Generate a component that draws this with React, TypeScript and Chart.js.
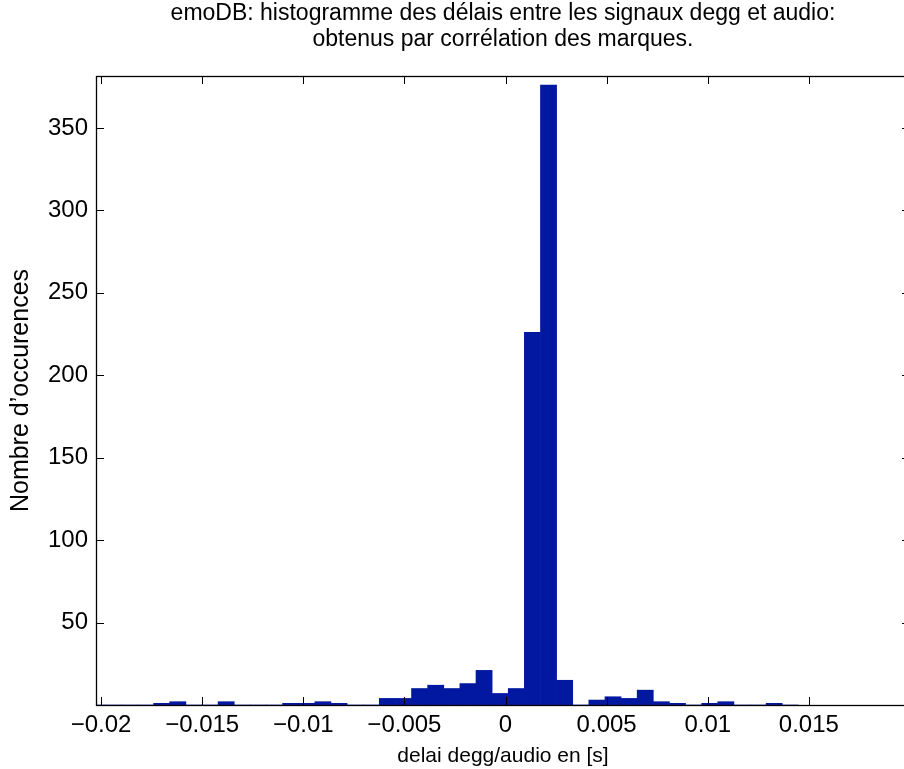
import React, { useEffect, useRef } from "react";
import { Chart, registerables } from "chart.js";

Chart.register(...registerables);

// Histogram bins (centres in seconds) and counts
const binCenters = [
  -0.0201895, -0.0193925, -0.0185955, -0.0177985, -0.0170015, -0.0162045,
  -0.0154075, -0.0146105, -0.0138135, -0.0130165, -0.0122195, -0.0114225,
  -0.0106255, -0.0098285, -0.0090315, -0.0082345, -0.0074375, -0.0066405,
  -0.0058435, -0.0050465, -0.0042495, -0.0034525, -0.0026555, -0.0018585,
  -0.0010615, -0.0002645, 0.0005325, 0.0013295, 0.0021265, 0.0029235,
  0.0037205, 0.0045175, 0.0053145, 0.0061115, 0.0069085, 0.0077055,
  0.0085025, 0.0092995, 0.0100965, 0.0108935, 0.0116905, 0.0124875,
  0.0132845, 0.0140815,
];
const counts = [
  0, 0, 0, 0, 1, 2,
  0, 0, 2, 0, 0, 0,
  1, 1, 2, 1, 0, 0,
  4, 4, 10, 12, 10, 13,
  21, 7, 10, 226, 376, 15,
  0, 3, 5, 4, 9, 2,
  1, 0, 1, 2, 0, 0,
  1, 0,
];

const xTickValues = [-0.02, -0.015, -0.01, -0.005, 0, 0.005, 0.01, 0.015];
const xTickLabels = ["\u22120.02", "\u22120.015", "\u22120.01", "\u22120.005", "0", "0.005", "0.01", "0.015"];
const yTickValues = [50, 100, 150, 200, 250, 300, 350];
const yTickLabels = ["50", "100", "150", "200", "250", "300", "350"];

const titleLines = [
  "emoDB: histogramme des délais entre les signaux degg et audio:",
  "obtenus par corrélation des marques.",
];
const xAxisTitle = "delai degg/audio en [s]";
const yAxisTitle = "Nombre d\u2019occurences";

const X_MIN = -0.02025;
const X_MAX = 0.02;
const Y_MIN = 0;
const Y_MAX = 381.5;

const FONT = "'Liberation Sans', Arial, Helvetica, sans-serif";
const BAR_COLOR = "rgb(3, 24, 160)";

const boxTicksPlugin = {
  id: "boxTicks",
  afterDatasetsDraw(chart: any) {
    const { ctx, chartArea } = chart;
    const { left, right, top, bottom } = chartArea;
    const xs = chart.scales.x;
    const ys = chart.scales.y;
    const TL = 8;
    ctx.save();
    ctx.strokeStyle = "#000";
    ctx.lineWidth = 1;
    ctx.beginPath();
    for (const v of xTickValues) {
      const px = Math.round(xs.getPixelForValue(v)) + 0.5;
      ctx.moveTo(px, bottom);
      ctx.lineTo(px, bottom - TL);
      ctx.moveTo(px, top);
      ctx.lineTo(px, top + TL);
    }
    for (const v of yTickValues) {
      const py = Math.round(ys.getPixelForValue(v)) + 0.5;
      ctx.moveTo(left, py);
      ctx.lineTo(left + TL, py);
      ctx.moveTo(right, py);
      ctx.lineTo(right - TL, py);
    }
    ctx.stroke();
    ctx.lineWidth = 1.3;
    ctx.strokeRect(Math.round(left) + 0.5, Math.round(top) + 0.5, Math.round(right - left), Math.round(bottom - top));
    ctx.restore();
  },
};

export default function App() {
  const canvasRef = useRef<HTMLCanvasElement | null>(null);

  useEffect(() => {
    const canvas = canvasRef.current;
    if (!canvas) return;
    const chart = new Chart(canvas, {
      type: "bar",
      data: {
        datasets: [
          {
            data: binCenters.map((x, i) => ({ x, y: counts[i] })),
            backgroundColor: BAR_COLOR,
            borderWidth: 0,
            barPercentage: 1,
            categoryPercentage: 1,
          },
        ],
      },
      options: {
        responsive: false,
        animation: false,
        devicePixelRatio: 1,
        layout: { padding: { left: 0, right: 10, top: 0, bottom: 0 } },
        plugins: {
          legend: { display: false },
          tooltip: { enabled: false },
          title: {
            display: true,
            text: titleLines,
            fullSize: false,
            color: "#000",
            font: { family: FONT, size: 23, weight: "normal", lineHeight: "26px" },
            padding: { top: 1, bottom: 23 },
          },
        },
        scales: {
          x: {
            type: "linear",
            min: X_MIN,
            max: X_MAX,
            offset: false,
            grid: { display: false, drawTicks: false, offset: false },
            border: { display: false },
            afterBuildTicks: (scale: any) => {
              scale.ticks = xTickValues.map((v) => ({ value: v }));
            },
            afterFit: (scale: any) => {
              scale.height = 64;
            },
            ticks: {
              autoSkip: false,
              maxRotation: 0,
              minRotation: 0,
              padding: 6,
              color: "#000",
              font: { family: FONT, size: 24 },
              callback: (_v: any, i: number) => xTickLabels[i],
            },
            title: {
              display: true,
              text: xAxisTitle,
              color: "#000",
              font: { family: FONT, size: 21 },
              padding: { top: 0, bottom: 0 },
            },
          },
          y: {
            type: "linear",
            min: Y_MIN,
            max: Y_MAX,
            grid: { display: false, drawTicks: false },
            border: { display: false },
            afterBuildTicks: (scale: any) => {
              scale.ticks = yTickValues.map((v) => ({ value: v }));
            },
            afterFit: (scale: any) => {
              scale.width = 96;
            },
            ticks: {
              autoSkip: false,
              padding: 8,
              color: "#000",
              font: { family: FONT, size: 24 },
              callback: (_v: any, i: number) => yTickLabels[i],
            },
            title: {
              display: true,
              text: yAxisTitle,
              color: "#000",
              font: { family: FONT, size: 25 },
              padding: { top: 6, bottom: 0 },
            },
          },
        },
      },
      plugins: [boxTicksPlugin],
    });
    return () => chart.destroy();
  }, []);

  return (
    <div
      style={{
        position: "absolute",
        left: 0,
        top: 0,
        width: 904,
        height: 769,
        overflow: "hidden",
        background: "#fff",
      }}
    >
      <canvas ref={canvasRef} width={920} height={769} style={{ display: "block" }} />
    </div>
  );
}
